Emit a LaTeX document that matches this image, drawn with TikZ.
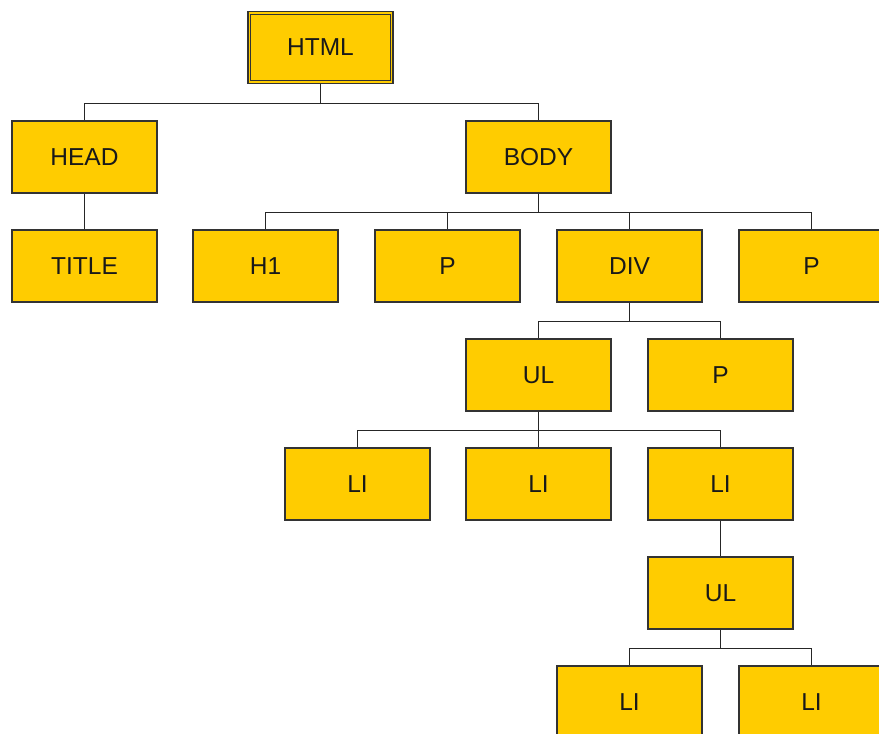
\documentclass[tikz,border=0pt]{standalone}
\usepackage{fontspec}
\setmainfont{Liberation Sans}
\definecolor{boxfill}{HTML}{FFCC00}
\definecolor{boxline}{HTML}{333333}
\begin{document}
\begin{tikzpicture}[x=1pt,y=1pt,
  tag/.style={draw=boxline, line width=1.5pt, fill=boxfill, minimum width=145pt, minimum height=72pt, inner sep=0pt, font=\fontsize{24.5}{28}\selectfont, text=black!90},
  inner/.style={draw=boxline, line width=1.2pt},
  link/.style={draw=black!85, line width=1.3pt}]
\useasboundingbox (0,0) rectangle (879,-734);
\clip (0,0) rectangle (879,-734);
\node[tag] (html) at (320.5,-47.5) {HTML};
\draw[inner] ([shift={(3.5pt,3.5pt)}]html.south west) rectangle ([shift={(-3.5pt,-3.5pt)}]html.north east);
\node[tag] (head) at (84.5,-157) {HEAD};
\node[tag] (body) at (538.5,-157) {BODY};
\node[tag] (title) at (84.5,-266) {TITLE};
\node[tag] (h1) at (265.5,-266) {H1};
\node[tag] (pa) at (447.5,-266) {P};
\node[tag] (div) at (629.5,-266) {DIV};
\node[tag] (pb) at (811.5,-266) {P};
\node[tag] (ula) at (538.5,-375) {UL};
\node[tag] (pc) at (720.5,-375) {P};
\node[tag] (lia) at (357.5,-484) {LI};
\node[tag] (lib) at (538.5,-484) {LI};
\node[tag] (lic) at (720.5,-484) {LI};
\node[tag] (ulb) at (720.5,-593) {UL};
\node[tag] (lid) at (629.5,-702) {LI};
\node[tag] (lie) at (811.5,-702) {LI};
\foreach \c in {head,body} \draw[link] (html.south) -- ++(0,-19) -| (\c.north);
\draw[link] (head.south) -- (title.north);
\foreach \c in {h1,pa,div,pb} \draw[link] (body.south) -- ++(0,-18.5) -| (\c.north);
\foreach \c in {ula,pc} \draw[link] (div.south) -- ++(0,-18.5) -| (\c.north);
\foreach \c in {lia,lib,lic} \draw[link] (ula.south) -- ++(0,-18.5) -| (\c.north);
\draw[link] (lic.south) -- (ulb.north);
\foreach \c in {lid,lie} \draw[link] (ulb.south) -- ++(0,-18.5) -| (\c.north);
\end{tikzpicture}
\end{document}
